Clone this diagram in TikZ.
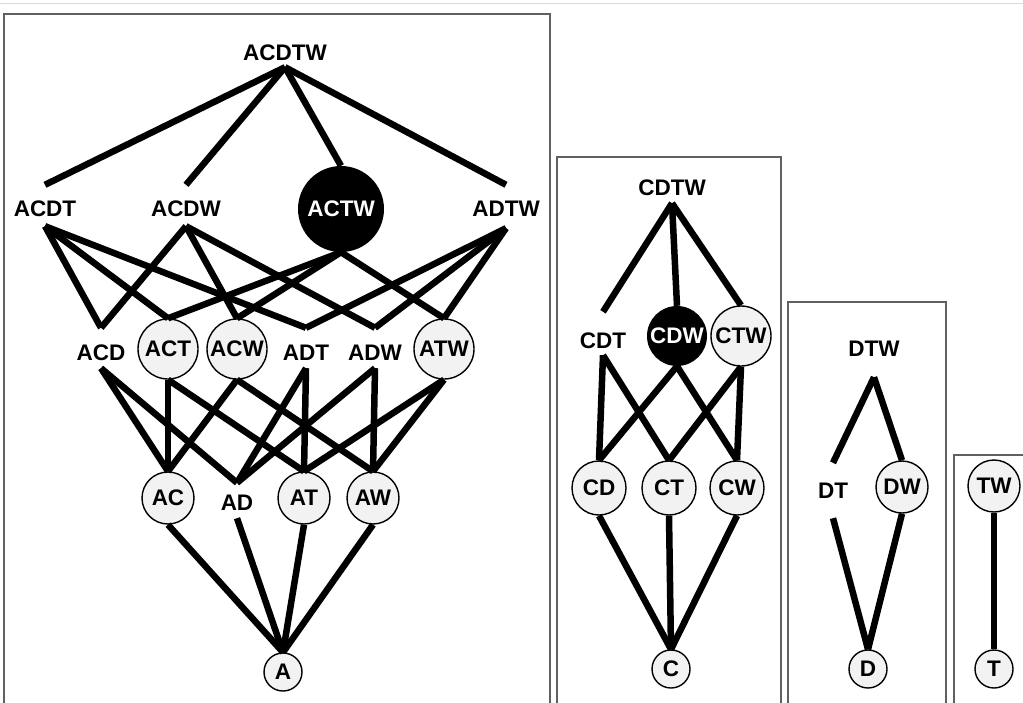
\documentclass[tikz,border=0pt]{standalone}
\usepackage{fontspec}
\setmainfont{Liberation Sans}
\definecolor{ringfill}{HTML}{F2F2F2}
\definecolor{panelgray}{HTML}{606060}
\begin{document}
\begin{tikzpicture}[x=1pt,y=-1pt,
  every node/.style={font=\fontsize{22.5}{27}\selectfont\bfseries, inner sep=0pt},
  tag/.style 2 args={anchor=base, text height=#1, text depth=#2},
  ring/.style={circle, draw=black, line width=1.4pt, fill=ringfill, minimum size=#1},
  dark/.style={circle, fill=black, text=white, minimum size=#1},
  link/.style={line width=6.5pt},
  panel/.style={draw=panelgray, line width=1.5pt}]
\useasboundingbox (0,0) rectangle (1023,702);
\clip (0,0) rectangle (1023,702);

% page rule and the four panels
\draw[black!15, line width=1pt] (0,3) -- (1023,3);
\draw[panel] (4,14) rectangle (550,730);
\draw[panel] (557,157) rectangle (781,730);
\draw[panel] (788,302) rectangle (946,730);
\draw[panel] (954,455) rectangle (1060,730);

% lattice over A
\node[tag={16pt}{7pt}] (acdtw) at (285,60) {ACDTW};
\node[tag={31pt}{10pt}] (acdt) at (45,216) {ACDT};
\node[tag={31pt}{10pt}] (acdw) at (186,216) {ACDW};
\node[dark=86pt] (actw) at (341,209) {ACTW};
\node[tag={31pt}{12pt}] (adtw) at (506,216) {ADTW};

\node[tag={32pt}{8pt}] (acd) at (101,360) {ACD};
\node[ring=60pt] (act) at (168,349) {ACT};
\node[ring=60pt] (acw) at (237,349) {ACW};
\node[tag={32pt}{8pt}] (adt) at (306,360) {ADT};
\node[tag={32pt}{8pt}] (adw) at (375,360) {ADW};
\node[ring=60pt] (atw) at (444,349) {ATW};

\node[ring=52pt] (ac) at (168,498) {AC};
\node[tag={27pt}{8pt}] (ad) at (237,510) {AD};
\node[ring=52pt] (at) at (304,498) {AT};
\node[ring=52pt] (aw) at (373,498) {AW};
\node[ring=38pt] (a) at (283,672) {A};

% lattice over C
\node[tag={16pt}{8pt}] (cdtw) at (672,195) {CDTW};
\node[tag={36pt}{7pt}] (cdt) at (603,348) {CDT};
\node[dark=60pt] (cdw) at (677,336) {CDW};
\node[ring=60pt] (ctw) at (741,336) {CTW};
\node[ring=54pt] (cd) at (599,488) {CD};
\node[ring=54pt] (ct) at (669,488) {CT};
\node[ring=54pt] (cw) at (737,488) {CW};
\node[ring=38pt] (c) at (671,669) {C};

% lattice over D
\node[tag={16pt}{21pt}] (dtw) at (874,356) {DTW};
\node[tag={35pt}{20pt}] (dt) at (833,498) {DT};
\node[ring=52pt] (dw) at (902,487) {DW};
\node[ring=38pt] (d) at (868,669) {D};

% lattice over T
\node[ring=52pt] (tw) at (994,486) {TW};
\node[ring=38pt] (t) at (994,669) {T};

% connectors
\foreach \u/\v in {acdtw/acdt, acdtw/acdw, acdtw/actw, acdtw/adtw,
  acdt/acd, acdt/act, acdt/adt, acdw/acd, acdw/acw, acdw/adw,
  actw/act, actw/acw, actw/atw, adtw/adt, adtw/adw, adtw/atw,
  acd/ac, acd/ad, act/ac, act/at, acw/ac, acw/aw,
  adt/ad, adt/at, adw/ad, adw/aw, atw/at, atw/aw,
  ac/a, ad/a, at/a, aw/a,
  cdtw/cdt, cdtw/cdw, cdtw/ctw, cdt/cd, cdt/ct, cdw/cd, cdw/cw,
  ctw/ct, ctw/cw, cd/c, ct/c, cw/c,
  dtw/dt, dtw/dw, dt/d, dw/d, tw/t}
  \draw[link] (\u.south) -- (\v.north);
\end{tikzpicture}
\end{document}
